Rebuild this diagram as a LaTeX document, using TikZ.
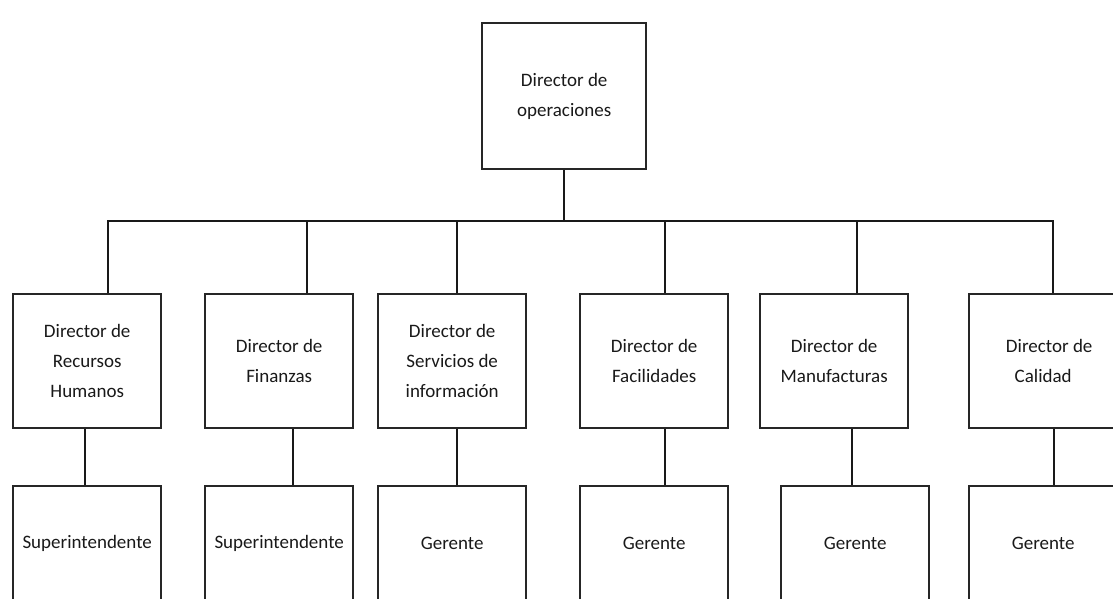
\documentclass[tikz,border=0pt]{standalone}
\usepackage{fontspec}
\setmainfont{Carlito}
\newcommand{\boxfont}{\fontsize{19}{30}\selectfont}

\begin{document}
\begin{tikzpicture}[
      x=1pt, y=-1pt,
      box/.style={draw=black!85, line width=2.4pt, minimum width=148pt, minimum height=134pt,
        inner sep=0pt, align=center, anchor=north west, text=black!90, font=\boxfont},
      head/.style={box, minimum width=164pt, minimum height=146pt},
      low/.style={box, minimum height=115pt},
      edge/.style={minimum width=160pt},
      link/.style={draw=black!90, line width=1.9pt}
    ]

    % page frame, the bottom row and the last box run off the page
    \useasboundingbox (0,0) rectangle (1113,598);
    \clip (0,0) rectangle (1113,598);

    % top of the chart
    \node[head] (ops) at (481,22) {Director de\\operaciones};

    % the six directors
    \node[box] (rh) at (12,293) {Director de\\Recursos\\Humanos};
    \node[box] (fin) at (204,293) {Director de\\Finanzas};
    \node[box] (info) at (377,293) {Director de\\Servicios de\\información};
    \node[box] (fac) at (579,293) {Director de\\Facilidades};
    \node[box] (man) at (759,293) {Director de\\Manufacturas};
    \node[box, edge] (cal) at (968,293) {Director de\\Calidad\hspace*{12pt}};

    % one box under each director
    \node[low] (rh-sup) at (12,485) {Superintendente};
    \node[low] (fin-sup) at (204,485) {Superintendente};
    \node[low] (info-ger) at (377,485) {Gerente};
    \node[low] (fac-ger) at (579,485) {Gerente};
    \node[low] (man-ger) at (780,485) {Gerente};
    \node[low, edge] (cal-ger) at (968,485) {Gerente\hspace*{12pt}};

    % fork from the top box down to the directors
    \coordinate (fork) at ([yshift=-51pt]ops.south);
    \draw[link] (ops) -- (fork);
    \draw[link] ([xshift=21pt]rh.north) |- (fork) -| ([xshift=4pt]cal.north);
    \draw[link] ([xshift=28pt]fin.north) -- ([xshift=28pt]fin.north |- fork);
    \draw[link] ([xshift=5pt]info.north) -- ([xshift=5pt]info.north |- fork);
    \draw[link] ([xshift=11pt]fac.north) -- ([xshift=11pt]fac.north |- fork);
    \draw[link] ([xshift=23pt]man.north) -- ([xshift=23pt]man.north |- fork);

    % directors down to their boxes
    \draw[link] ([xshift=-2pt]rh.south) -- ([xshift=-2pt]rh-sup.north);
    \draw[link] ([xshift=14pt]fin.south) -- ([xshift=14pt]fin-sup.north);
    \draw[link] ([xshift=5pt]info.south) -- ([xshift=5pt]info-ger.north);
    \draw[link] ([xshift=11pt]fac.south) -- ([xshift=11pt]fac-ger.north);
    \draw[link] ([xshift=18pt]man.south) -- ([xshift=-3pt]man-ger.north);
    \draw[link] ([xshift=5pt]cal.south) -- ([xshift=5pt]cal-ger.north);
\end{tikzpicture}
\end{document}
